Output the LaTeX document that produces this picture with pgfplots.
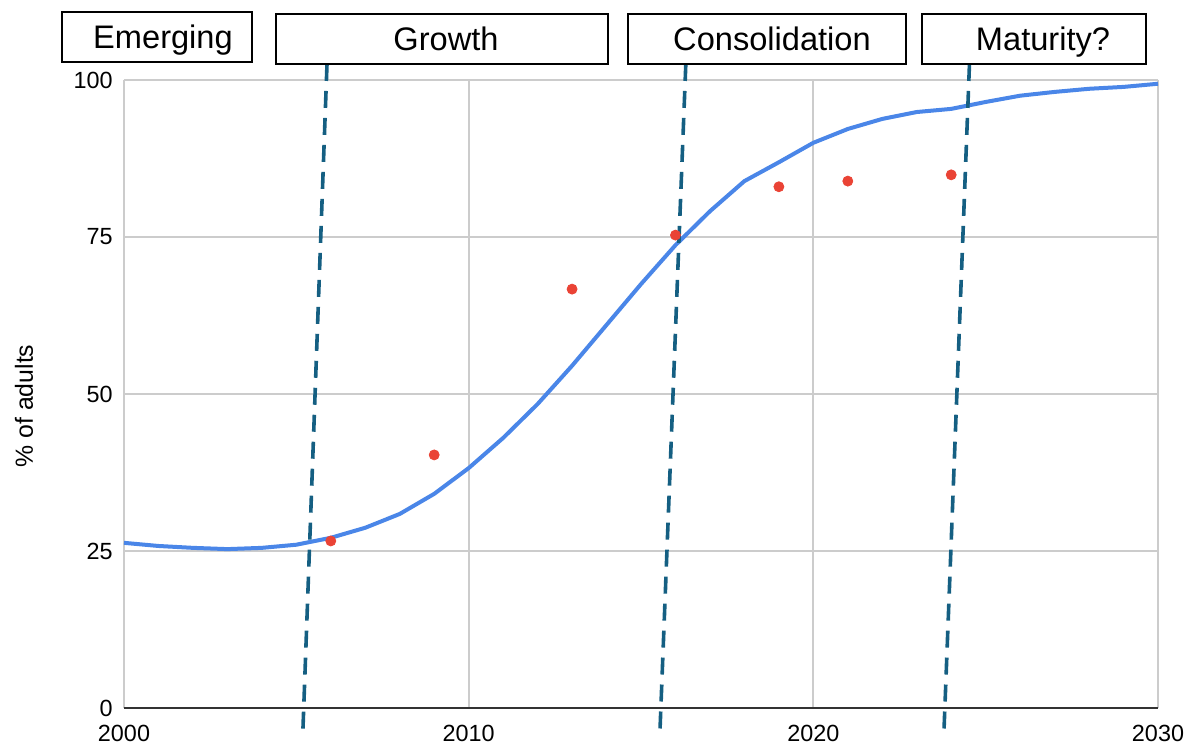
\documentclass[border=0pt]{standalone}
\usepackage{fontspec}
\setmainfont{Liberation Sans}
\usepackage{pgfplots}
\pgfplotsset{compat=1.18}

\definecolor{gridgray}{HTML}{CCCCCC}
\definecolor{axisdark}{HTML}{333333}
\definecolor{trendblue}{HTML}{4A86E8}
\definecolor{obsred}{HTML}{EA4335}
\definecolor{phaseteal}{HTML}{155F82}

\begin{document}
\begin{tikzpicture}
\useasboundingbox (-62pt,-18pt) rectangle (534pt,354pt);
\begin{axis}[
  at={(0,0)}, anchor=south west,
  scale only axis, width=517pt, height=314pt,
  xmin=2000, xmax=2030, ymin=0, ymax=100,
  xtick={2000,2010,2020,2030},
  ytick={0,25,50,75,100},
  major tick length=0pt,
  grid=major,
  grid style={color=gridgray, line width=1pt},
  axis line style={draw=none},
  clip=false,
  /pgf/number format/1000 sep={},
  /pgf/number format/assume math mode=true,
  tick label style={font=\fontsize{11.7}{14}\selectfont, inner sep=0pt, text=black},
  xticklabel style={anchor=north, yshift=-8.5pt},
  yticklabel style={anchor=east, xshift=-5.5pt},
  ylabel={\% of adults},
  every axis y label/.style={at={(axis description cs:-0.0967,0.4809)}, anchor=center, rotate=90,
    font=\fontsize{12.4}{14}\selectfont, inner sep=0pt},
]
% bottom axis line
\addplot[draw=axisdark, line width=1pt, forget plot] coordinates {(2000,0) (2030,0)};

% fitted adoption curve
\addplot[draw=trendblue, line width=2pt, line join=round] coordinates {
(2000,26.3) (2001,25.8) (2002,25.5) (2003,25.3) (2004,25.5) (2005,26.0)
(2006,27.1) (2007,28.7) (2008,30.9) (2009,34.1) (2010,38.2) (2011,43.0)
(2012,48.4) (2013,54.5) (2014,61.0) (2015,67.5) (2016,73.7) (2017,79.1)
(2018,83.9) (2019,86.9) (2020,90.0) (2021,92.2) (2022,93.8) (2023,94.9)
(2024,95.4) (2025,96.5) (2026,97.5) (2027,98.1) (2028,98.6) (2029,98.9)
(2030,99.4)};

% survey observations
\addplot[only marks, mark=*, mark size=2.5pt, color=obsred, mark options={draw=none, fill=obsred}] coordinates {
(2006,26.6) (2009,40.3) (2013,66.7) (2016,75.3) (2019,83.0) (2021,83.9) (2024,84.9)};

% phase boundaries
\addplot[draw=phaseteal, line width=1.8pt, dash pattern=on 8.5pt off 5pt] coordinates {(2005.89,102.55) (2005.19,-3.66)};
\addplot[draw=phaseteal, line width=1.8pt, dash pattern=on 8.5pt off 5pt] coordinates {(2016.30,102.55) (2015.55,-3.66)};
\addplot[draw=phaseteal, line width=1.8pt, dash pattern=on 8.5pt off 5pt] coordinates {(2024.53,102.55) (2023.79,-3.66)};
\end{axis}

% phase labels
\tikzset{phase/.style={draw=black, line width=0.75pt, fill=white}}
\path[phase] (-31pt,323pt) rectangle (64pt,348pt);
\path[phase] (76pt,322pt) rectangle (242pt,347pt);
\path[phase] (252pt,322pt) rectangle (391pt,347pt);
\path[phase] (399pt,322pt) rectangle (511pt,347pt);
\tikzset{phasetext/.style={font=\fontsize{16.3}{19}\selectfont, inner sep=0pt, anchor=base}}
\node[phasetext] at (19.5pt,329.5pt) {Emerging};
\node[phasetext] at (161pt,328.5pt) {Growth};
\node[phasetext] at (324pt,328.5pt) {Consolidation};
\node[phasetext] at (459.5pt,328.5pt) {Maturity?};
\end{tikzpicture}
\end{document}
